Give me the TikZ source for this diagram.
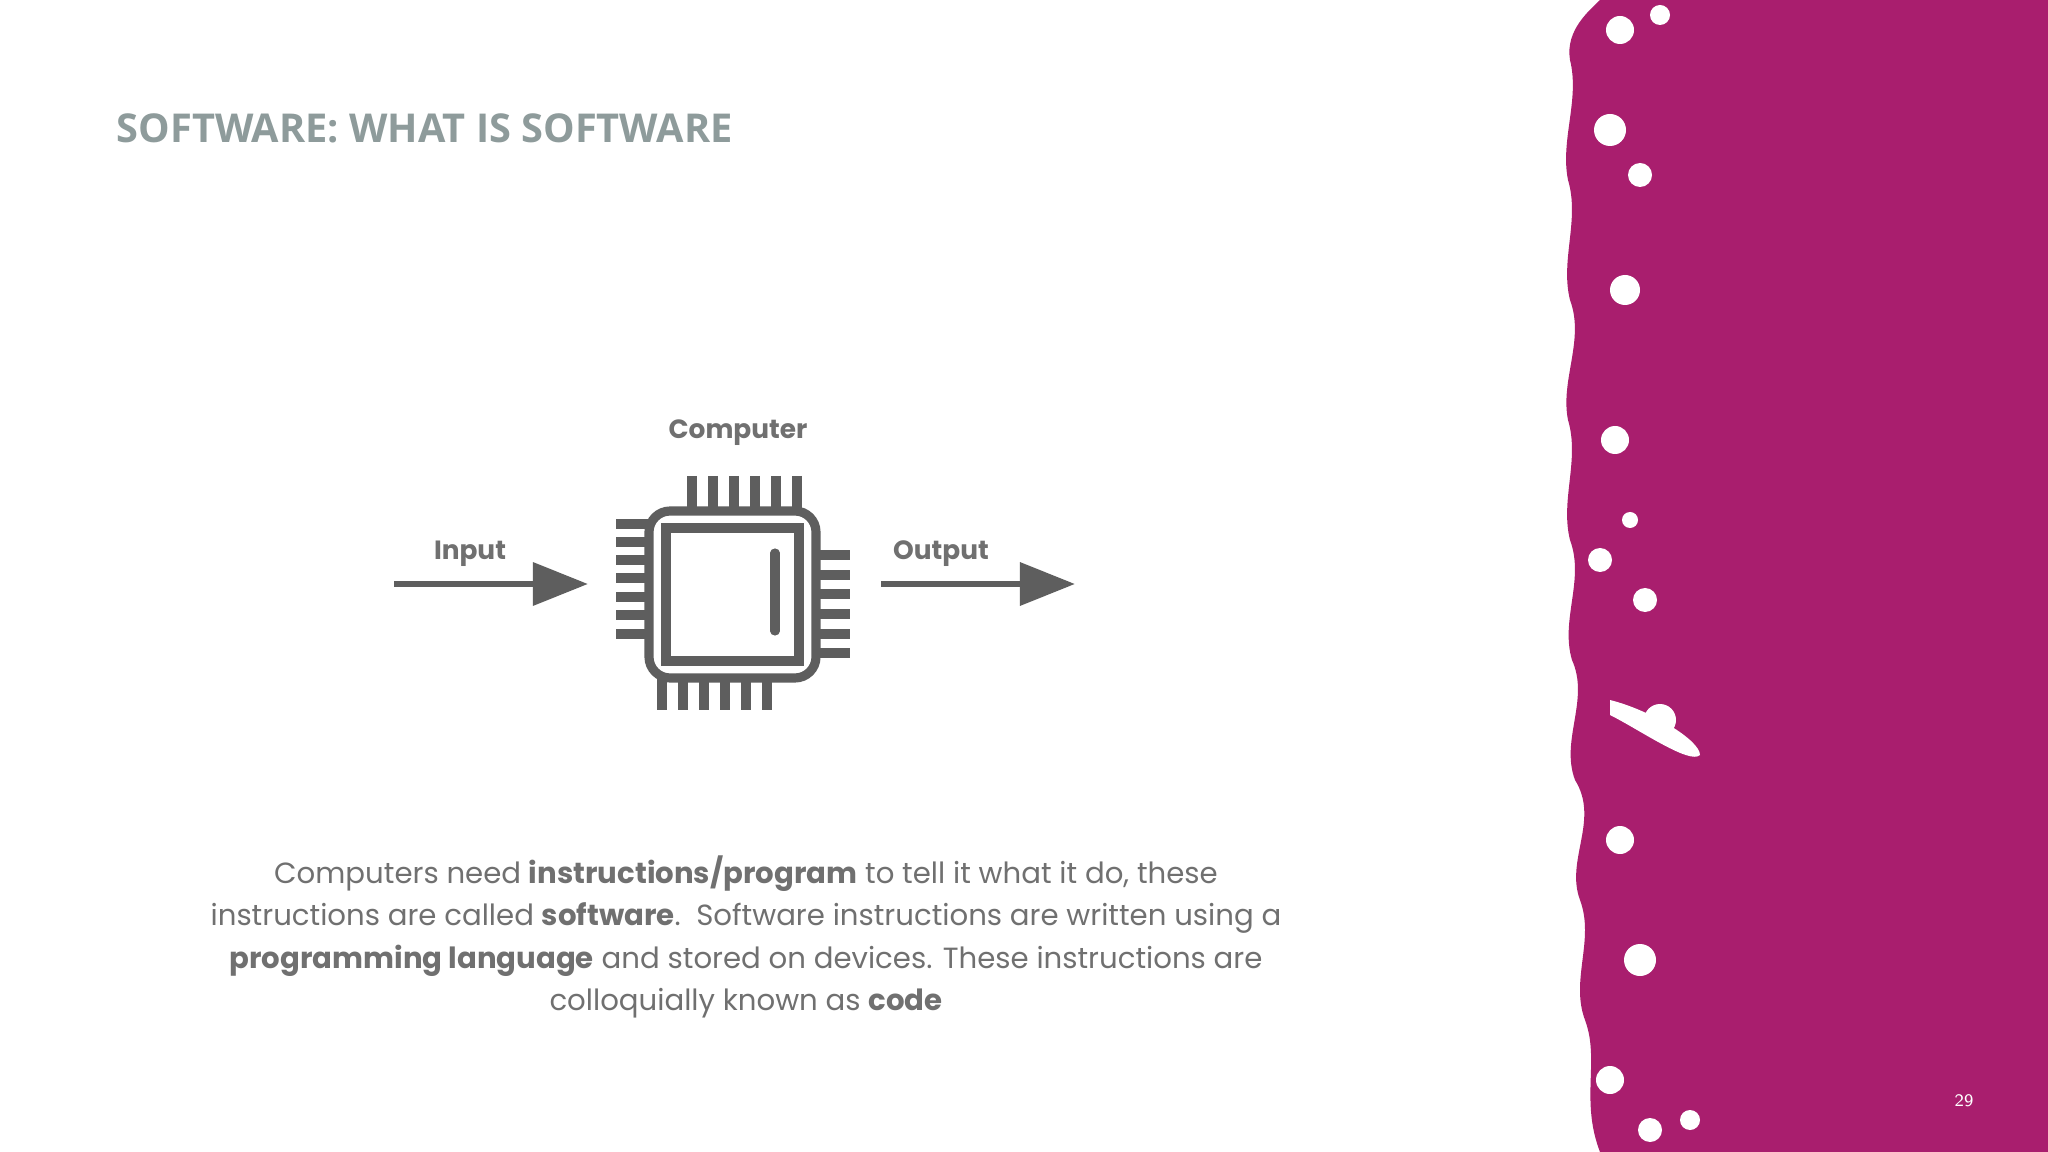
\documentclass[tikz,border=0pt]{standalone}
\usepackage{fontspec}
\setmainfont{Poppins}
\newfontfamily\titlefont{Open Sans}
\usetikzlibrary{arrows.meta}
\definecolor{mag}{HTML}{A91E6E}
\definecolor{tgray}{HTML}{8E9B9B}
\definecolor{dgray}{HTML}{5E5E5E}
\definecolor{lbl}{HTML}{707070}
\tikzset{pin/.style={dgray,line width=2.6pt},
 flow/.style={dgray,line width=1.9pt,-{Triangle[length=0.55cm,width=0.42cm]}},
 lab/.style={font=\fontsize{7.5}{9}\selectfont\bfseries,text=lbl}}
\begin{document}
\begin{tikzpicture}[x=0.01cm,y=-0.01cm]
\useasboundingbox (0,0) rectangle (2048,1152);
\fill[white] (0,0) rectangle (2048,1152);
% magenta band with blobby edge
\fill[mag] (1740,0) -- (2048,0) -- (2048,1152) -- (1600,1152)
 .. controls (1580,1100) and (1600,1060) .. (1585,1020)
 .. controls (1570,980) and (1595,940) .. (1580,900)
 .. controls (1565,860) and (1600,820) .. (1575,780)
 .. controls (1560,740) and (1590,700) .. (1572,660)
 .. controls (1560,620) and (1585,580) .. (1570,540)
 .. controls (1560,500) and (1580,460) .. (1568,420)
 .. controls (1560,380) and (1585,340) .. (1570,300)
 .. controls (1560,260) and (1580,220) .. (1568,180)
 .. controls (1560,140) and (1580,100) .. (1570,60)
 .. controls (1565,30) and (1590,10) .. (1600,0) -- cycle;
\fill[mag] (1600,0) rectangle (1760,1152);
\foreach \x/\y/\r in {1620/30/14,1660/15/10,1610/130/16,1640/175/12,1625/290/15,1615/440/14,1645/600/12,1660/720/16,1620/840/14,1640/960/16,1610/1080/14,1650/1130/12,1690/1120/10,1600/560/12,1630/520/8}
 \fill[white] (\x,\y) circle[radius=\r];
\fill[white] (1610,700) .. controls (1650,710) and (1700,740) .. (1700,755) .. controls (1690,765) and (1640,730) .. (1610,715) -- cycle;
\node[anchor=base west,inner sep=0,font=\titlefont\fontsize{11.3}{14}\selectfont\bfseries,text=tgray] (title) at (116,143) {SOFTWARE: WHAT IS SOFTWARE};
% chip
\draw[pin,rounded corners=6] (649,511) rectangle (816,678);
\draw[pin] (666,528) rectangle (799,661);
\draw[pin,line cap=round] (775,553) -- (775,631);
\foreach \x in {692,713,734,755,776,797} \draw[pin] (\x,476) -- (\x,511);
\foreach \x in {662,683,704,725,746,767} \draw[pin] (\x,678) -- (\x,710);
\foreach \y in {524,542,560,578,597,615,634} \draw[pin] (616,\y) -- (649,\y);
\foreach \y in {555,575,594,614,634,653} \draw[pin] (816,\y) -- (850,\y);
\node[lab] (comp) at (738,433) {Computer};
\coordinate (a1) at (394,584); \coordinate (a2) at (588,584);
\coordinate (b1) at (881,584); \coordinate (b2) at (1075,584);
\draw[flow] (a1) -- (a2);
\draw[flow] (b1) -- (b2);
\node[lab] (in) at (470,554) {Input};
\node[lab] (out) at (941,554) {Output};
\node[align=center,text=lbl,font=\fontsize{8.3}{12.1}\selectfont] (para) at (746,937)
{Computers need \textbf{instructions/program} to tell it what it do, these\\
instructions are called \textbf{software}.\ \ Software instructions are written using a\\
\textbf{programming language} and stored on devices. These instructions are\\
colloquially known as \textbf{code}};
\node[text=white,font=\sffamily\fontsize{5}{6}\selectfont] (pg) at (1964,1101) {29};
\end{tikzpicture}
\end{document}
